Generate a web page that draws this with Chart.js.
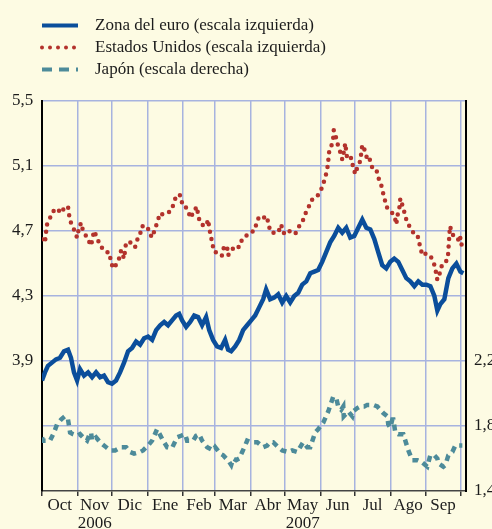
<!DOCTYPE html>
<html><head><meta charset="utf-8">
<script src="https://cdn.jsdelivr.net/npm/chart.js@4/dist/chart.umd.min.js"></script>
<style>html,body{margin:0;padding:0;background:#fdfbe3;} #wrap{width:492px;height:529px;position:relative;}</style>
</head><body><div id="wrap"><canvas id="c"></canvas></div>
<script>
// ---- data (x = days since 1 Oct 2006) ----
const seriesNames = ['Zona del euro (escala izquierda)', 'Estados Unidos (escala izquierda)', 'Japón (escala derecha)'];
const monthLabels = ['Oct','Nov','Dic','Ene','Feb','Mar','Abr','May','Jun','Jul','Ago','Sep'];
const monthStarts = [0,31,61,92,123,151,182,212,243,273,304,335,365];
const yearLabels = ['2006', '2007'];
const yearMonthIndex = [1, 7];
const leftTicks = [3.9, 4.3, 4.7, 5.1, 5.5];
const rightTicks = [1.4, 1.8, 2.2];

const euroDays = [0,2.6,5.2,8.7,12.2,15.7,19.2,22.7,25.3,27.9,30.6,33.2,36.7,40.2,43.7,47.2,50.7,54.1,57.6,61.1,64.6,68.1,71.6,75.1,78.6,82.1,85.6,89.1,92.6,96.1,99.6,103.1,106.6,110.0,113.5,117.0,119.7,122.3,125.8,129.3,132.8,136.2,139.7,143.2,145.9,149.3,152.8,156.3,159.8,162.4,165.1,168.6,172.1,175.5,179.0,182.5,186.0,189.5,193.0,195.6,199.1,202.6,206.1,209.6,213.1,216.6,220.1,223.6,227.1,230.6,234.1,237.6,241.0,244.5,248.0,251.5,255.0,258.5,262.0,265.5,269.0,272.5,276.0,279.5,283.0,286.5,290.0,293.4,296.9,300.4,303.9,307.4,310.9,314.4,317.9,321.4,324.9,328.4,331.9,335.4,338.9,342.4,345.0,347.6,351.1,354.6,358.1,361.6,365.1,367.7];
const euroVals = [3.78,3.83,3.87,3.89,3.91,3.92,3.96,3.97,3.92,3.83,3.78,3.85,3.81,3.83,3.80,3.83,3.80,3.81,3.77,3.76,3.78,3.83,3.89,3.96,3.98,4.02,4.00,4.04,4.05,4.03,4.09,4.12,4.14,4.12,4.15,4.18,4.19,4.15,4.11,4.14,4.18,4.17,4.12,4.17,4.09,4.03,3.99,3.98,4.03,3.97,3.96,3.99,4.03,4.09,4.12,4.15,4.18,4.23,4.28,4.34,4.28,4.29,4.31,4.26,4.30,4.26,4.30,4.32,4.37,4.39,4.44,4.45,4.46,4.51,4.57,4.63,4.67,4.72,4.69,4.72,4.66,4.67,4.72,4.77,4.72,4.71,4.65,4.57,4.49,4.47,4.51,4.53,4.51,4.46,4.41,4.39,4.36,4.39,4.37,4.37,4.36,4.30,4.21,4.25,4.28,4.41,4.47,4.50,4.45,4.44];

const usDays = [0,2.6,3.5,4.4,7.0,9.6,13.1,16.6,20.1,22.7,23.6,25.3,27.9,30.6,32.3,34.1,35.8,39.3,42.8,45.4,48.0,50.7,55.9,58.5,60.3,62.0,65.5,67.2,69.0,71.6,73.4,77.7,81.2,83.8,85.6,87.3,91.7,94.3,96.1,100.4,103.1,105.7,109.2,111.8,115.3,117.0,120.5,122.3,124.0,126.6,130.1,131.9,135.4,136.2,138.9,143.2,145.0,145.9,147.6,149.3,150.3,152.0,154.6,157.2,159.0,161.6,162.4,164.2,168.6,172.1,174.7,178.2,180.8,185.2,187.8,189.5,193.0,196.5,197.4,200.0,203.5,206.1,208.7,210.5,213.1,215.7,219.2,221.8,224.5,228.0,230.6,232.3,234.9,238.4,241.9,244.5,247.2,248.9,249.8,250.3,252.4,254.1,254.6,256.8,258.5,261.1,262.0,263.8,264.6,266.4,269.9,271.6,273.4,275.1,277.7,278.6,279.5,282.1,283.8,285.6,288.2,291.7,293.4,296.1,297.8,299.6,301.3,303.9,305.7,308.3,309.2,310.0,311.8,312.7,315.3,317.9,319.7,321.4,324.0,327.5,330.1,331.9,334.5,338.9,340.6,343.2,344.0,345.0,347.6,349.3,353.7,354.6,355.0,355.5,355.9,358.1,358.9,362.4,364.2,365.1,366.8];
const usVals = [4.65,4.63,4.69,4.74,4.78,4.82,4.84,4.81,4.85,4.85,4.80,4.75,4.71,4.66,4.72,4.75,4.70,4.66,4.61,4.70,4.66,4.61,4.57,4.57,4.51,4.47,4.50,4.53,4.58,4.53,4.63,4.63,4.60,4.66,4.68,4.73,4.73,4.68,4.66,4.75,4.81,4.80,4.81,4.82,4.87,4.92,4.92,4.87,4.87,4.83,4.78,4.82,4.85,4.79,4.74,4.73,4.77,4.72,4.66,4.60,4.57,4.57,4.55,4.55,4.61,4.60,4.55,4.57,4.61,4.60,4.65,4.67,4.69,4.70,4.76,4.79,4.78,4.79,4.74,4.69,4.69,4.69,4.74,4.69,4.68,4.70,4.68,4.69,4.73,4.77,4.82,4.84,4.89,4.90,4.93,4.97,5.03,5.08,5.13,5.18,5.22,5.27,5.32,5.27,5.22,5.17,5.14,5.20,5.24,5.14,5.15,5.09,5.05,5.09,5.13,5.18,5.23,5.19,5.14,5.15,5.09,5.08,5.03,4.98,4.93,4.88,4.84,4.82,4.81,4.77,4.74,4.79,4.84,4.90,4.84,4.77,4.74,4.72,4.69,4.68,4.60,4.55,4.56,4.55,4.52,4.48,4.43,4.40,4.45,4.50,4.52,4.57,4.63,4.67,4.73,4.69,4.67,4.66,4.63,4.66,4.59];

const jpDays = [0,0.9,4.4,7.0,10.5,13.1,16.6,20.1,22.7,24.5,27.1,30.6,33.2,35.8,39.3,41.0,42.8,43.7,47.2,50.7,55.9,59.4,63.8,69.0,73.4,76.9,80.3,85.6,88.2,92.6,96.1,100.4,105.7,109.2,110.0,113.5,117.9,121.4,124.9,126.6,131.9,134.5,137.1,139.7,144.1,149.3,151.1,155.5,158.1,163.3,165.1,166.8,169.4,172.1,174.7,177.3,179.0,182.5,185.2,187.8,193.0,196.5,199.1,201.7,206.1,209.6,214.8,218.3,222.7,225.3,227.9,231.4,234.1,238.4,241.0,245.4,249.8,254.1,256.8,258.5,261.1,262.9,263.3,267.2,270.7,271.6,275.1,277.7,281.2,283.8,289.1,292.6,297.8,301.3,302.2,303.9,305.7,306.6,308.3,310.9,315.3,318.8,319.7,323.1,327.5,331.0,334.5,336.2,338.9,342.4,345.0,345.9,350.2,352.0,354.6,358.1,360.7,363.3,366.8];
const jpVals = [1.73,1.71,1.71,1.71,1.76,1.81,1.84,1.86,1.84,1.76,1.75,1.74,1.75,1.73,1.71,1.74,1.76,1.71,1.73,1.70,1.67,1.65,1.65,1.67,1.67,1.64,1.63,1.64,1.65,1.68,1.71,1.78,1.71,1.67,1.67,1.665,1.73,1.74,1.75,1.71,1.71,1.74,1.75,1.71,1.67,1.65,1.67,1.63,1.62,1.58,1.56,1.60,1.59,1.60,1.64,1.68,1.71,1.70,1.70,1.70,1.67,1.68,1.70,1.70,1.67,1.65,1.64,1.65,1.64,1.67,1.70,1.67,1.67,1.76,1.78,1.82,1.89,1.98,1.97,1.92,1.90,1.92,1.86,1.89,1.86,1.89,1.91,1.92,1.92,1.93,1.93,1.92,1.88,1.86,1.81,1.79,1.84,1.84,1.76,1.75,1.75,1.67,1.65,1.59,1.59,1.58,1.56,1.55,1.62,1.62,1.60,1.57,1.55,1.56,1.62,1.64,1.68,1.68,1.68];

// ---- styling ----
const GRID = '#a7b3df';
const TEXT = '#1c1c1c';
const FONT = "'Liberation Serif', 'Times New Roman', serif";
Chart.defaults.font.family = FONT;
Chart.defaults.font.size = 17;
Chart.defaults.color = TEXT;

const toXY = (xs, ys) => xs.map((x, i) => ({x: x, y: ys[i]}));
const fmt = v => v.toFixed(1).replace('.', ',');

const mids = monthLabels.map((m, i) => (monthStarts[i] + monthStarts[i + 1]) / 2);
const xTickValues = monthStarts.concat(mids);
const isBoundary = v => monthStarts.includes(v);
const labelFor = v => {
  const i = mids.indexOf(v);
  if (i < 0) return '';
  const y = yearMonthIndex.indexOf(i);
  return y >= 0 ? [monthLabels[i], yearLabels[y]] : monthLabels[i];
};
const legendDash = [[], [0, 8], [10, 7]];
const legendCap = ['butt', 'round', 'butt'];

new Chart(document.getElementById('c'), {
  type: 'line',
  data: {
    datasets: [
      {label: seriesNames[0], data: toXY(euroDays, euroVals), yAxisID: 'y',
       borderColor: '#0b4e9b', backgroundColor: 'transparent', borderWidth: 4.5,
       pointRadius: 0, tension: 0, borderJoinStyle: 'miter'},
      {label: seriesNames[1], data: toXY(usDays, usVals), yAxisID: 'y',
       borderColor: '#b3322c', backgroundColor: 'transparent', borderWidth: 4.5,
       borderDash: [0, 7.5], borderCapStyle: 'round', pointRadius: 0, tension: 0},
      {label: seriesNames[2], data: toXY(jpDays, jpVals), yAxisID: 'y2',
       borderColor: '#4d8b9a', backgroundColor: 'transparent', borderWidth: 4.5,
       borderDash: [6, 5], pointRadius: 0, tension: 0}
    ]
  },
  options: {
    responsive: true, maintainAspectRatio: false, animation: false,
    layout: {padding: {left: 37, top: 12, right: 0, bottom: 0}},
    plugins: {
      tooltip: {enabled: false},
      legend: {
        display: true, position: 'top', align: 'start',
        labels: {
          usePointStyle: true, pointStyle: 'line', pointStyleWidth: 36, padding: 5,
          color: TEXT, font: {size: 17, family: FONT},
          generateLabels(chart) {
            const items = Chart.defaults.plugins.legend.labels.generateLabels(chart);
            items.forEach((it, i) => {
              const ds = chart.data.datasets[i];
              it.lineDash = legendDash[i];
              it.lineCap = legendCap[i];
              it.lineWidth = 4;
              it.strokeStyle = ds.borderColor;
              it.text = '\u2002' + it.text;
            });
            return items;
          }
        }
      },
      subtitle: {display: true, text: '', position: 'top', weight: 500,
                 font: {size: 1, lineHeight: 1}, padding: {top: 0, bottom: 12}}
    },
    scales: {
      x: {
        type: 'linear', min: 0, max: 370, position: 'bottom',
        afterBuildTicks: s => { s.ticks = xTickValues.map(v => ({value: v})); },
        afterFit: s => { s.height = 38; },
        ticks: {autoSkip: false, maxRotation: 0, padding: 1, color: TEXT,
                font: {size: 17, family: FONT, lineHeight: 1.05},
                callback: v => labelFor(v)},
        grid: {
          drawOnChartArea: true, drawTicks: true, tickLength: 5, lineWidth: 1.5,
          color: c => (c.tick && isBoundary(c.tick.value)) ? GRID : 'rgba(0,0,0,0)',
          tickColor: c => (c.tick && isBoundary(c.tick.value)) ? '#333' : 'rgba(0,0,0,0)',
          tickWidth: 1.5
        },
        border: {display: true, color: '#444', width: 1.5}
      },
      y: {
        type: 'linear', position: 'left', min: 3.1, max: 5.5,
        afterFit: s => { s.width = 5; },
        ticks: {stepSize: 0.4, mirror: true, crossAlign: 'near', padding: -30,
                color: TEXT, font: {size: 17, family: FONT},
                callback: v => leftTicks.some(t => Math.abs(t - v) < 1e-6) ? fmt(v) : ''},
        grid: {drawTicks: false, lineWidth: 1.5,
               color: c => (c.tick && c.tick.value < 3.3) ? 'rgba(0,0,0,0)' : GRID},
        border: {display: true, color: '#000', width: 2}
      },
      y2: {
        type: 'linear', position: 'right', min: 1.4, max: 3.8,
        afterFit: s => { s.width = 26; },
        ticks: {stepSize: 0.4, padding: 8, color: TEXT, font: {size: 17, family: FONT},
                callback: v => rightTicks.some(t => Math.abs(t - v) < 1e-6) ? fmt(v) : ''},
        grid: {drawOnChartArea: false, drawTicks: false},
        border: {display: true, color: '#000', width: 2}
      }
    }
  }
});
</script>
</body></html>
